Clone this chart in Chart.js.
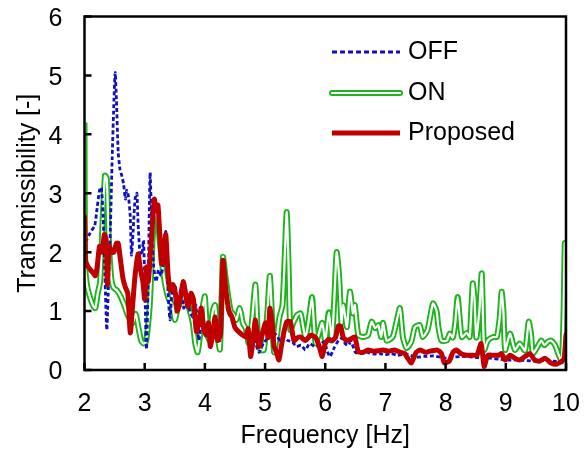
<!DOCTYPE html>
<html><head><meta charset="utf-8">
<script src="https://cdn.jsdelivr.net/npm/chart.js@4.4.0/dist/chart.umd.min.js"></script>
<style>html,body{margin:0;padding:0;background:#fff;}#wrap{width:587px;height:455px;}</style>
</head><body><div id="wrap"><canvas id="c" width="587" height="455"></canvas></div>
<script>
// ---- data ----
const xTicks = [2,3,4,5,6,7,8,9,10];
const yTicks = [0,1,2,3,4,5,6];
const xTitle = 'Frequency [Hz]';
const yTitle = 'Transmissibility [-]';
const seriesNames = ['OFF','ON','Proposed'];

const offFreq = [2.00,2.03,2.08,2.12,2.17,2.21,2.25,2.28,2.31,2.34,2.37,2.40,2.43,2.46,2.49,2.51,2.53,2.56,2.59,2.62,2.65,2.68,2.70,2.73,2.76,2.78,2.81,2.84,2.87,2.89,2.92,2.95,2.98,3.00,3.03,3.06,3.09,3.12,3.15,3.19,3.23,3.27,3.31,3.35,3.38,3.42,3.46,3.50,3.55,3.60,3.65,3.70,3.75,3.80,3.85,3.90,3.95,4.00,4.05,4.10,4.15,4.20,4.25,4.30,4.33,4.38,4.45,4.52,4.60,4.68,4.75,4.82,4.90,4.97,5.05,5.10,5.18,5.25,5.31,5.38,5.45,5.52,5.60,5.67,5.74,5.82,5.90,5.98,6.04,6.08,6.15,6.22,6.28,6.33,6.38,6.43,6.50,6.60,6.70,6.80,6.90,7.00,7.10,7.20,7.35,7.50,7.65,7.80,7.90,8.00,8.15,8.30,8.45,8.60,8.75,8.90,9.05,9.20,9.35,9.50,9.65,9.80,9.95,10.0];
const offVal  = [2.2,2.2,2.3,2.37,2.45,2.75,3.05,3.1,2.6,1.6,0.68,1.5,2.4,3.6,4.6,5.05,4.6,3.7,3.4,3.3,3.15,2.9,3.05,2.95,2.6,1.95,2.4,2.9,3.0,2.5,2.0,1.95,2.2,1.5,0.35,1.6,3.35,2.3,1.75,1.5,1.7,1.6,1.8,2.35,1.5,0.85,1.4,1.45,1.2,1.35,1.05,1.2,1.0,0.9,1.1,0.5,0.85,0.8,0.6,0.7,0.75,0.85,0.5,1.8,1.4,1.0,0.85,0.68,0.62,0.56,0.5,0.5,0.3,0.45,0.55,0.63,0.6,0.5,0.56,0.5,0.48,0.4,0.42,0.34,0.45,0.4,0.42,0.48,0.3,0.23,0.38,0.5,0.54,0.45,0.42,0.48,0.3,0.28,0.3,0.27,0.28,0.26,0.28,0.25,0.27,0.22,0.23,0.24,0.22,0.2,0.22,0.23,0.22,0.2,0.2,0.18,0.17,0.17,0.16,0.15,0.16,0.15,0.14,0.18];

const onFreq = [2.00,2.01,2.04,2.09,2.14,2.18,2.22,2.26,2.30,2.34,2.37,2.40,2.44,2.48,2.54,2.60,2.66,2.71,2.76,2.80,2.85,2.90,2.94,2.98,3.02,3.05,3.09,3.13,3.17,3.21,3.25,3.29,3.34,3.40,3.46,3.50,3.55,3.60,3.65,3.70,3.75,3.80,3.84,3.88,3.92,3.97,4.00,4.04,4.08,4.13,4.17,4.21,4.25,4.30,4.34,4.38,4.43,4.47,4.52,4.58,4.63,4.68,4.73,4.78,4.84,4.88,4.92,4.98,5.04,5.08,5.12,5.15,5.20,5.24,5.29,5.33,5.36,5.39,5.42,5.47,5.53,5.59,5.63,5.67,5.72,5.78,5.81,5.84,5.89,5.95,6.00,6.06,6.11,6.15,6.19,6.23,6.27,6.30,6.36,6.41,6.46,6.49,6.55,6.63,6.71,6.77,6.83,6.88,6.93,6.96,7.02,7.12,7.18,7.24,7.29,7.35,7.43,7.49,7.57,7.62,7.70,7.79,7.85,7.88,7.93,8.02,8.07,8.12,8.16,8.20,8.24,8.27,8.35,8.40,8.45,8.48,8.51,8.56,8.60,8.64,8.70,8.79,8.85,8.90,8.93,8.96,8.99,9.07,9.15,9.23,9.32,9.38,9.42,9.45,9.53,9.59,9.64,9.70,9.75,9.82,9.87,9.93,9.96,9.98,10.0];
const onVal  = [4.2,1.8,1.45,1.24,1.1,1.05,1.3,1.5,2.5,3.3,3.25,2.3,1.6,1.4,1.35,1.25,1.1,0.95,0.85,0.8,0.95,0.7,0.5,0.45,0.48,0.7,1.2,2.2,2.7,2.6,2.2,1.8,1.45,1.2,1.1,0.85,1.05,1.15,1.1,1.2,1.0,0.8,0.45,0.3,0.6,1.1,1.25,0.6,0.5,1.0,1.1,0.6,0.35,1.92,1.6,1.3,1.0,0.95,0.85,1.05,0.8,0.7,0.45,0.8,1.45,0.6,0.34,0.34,1.0,1.6,0.8,0.3,0.6,0.9,1.1,2.0,2.68,1.8,0.68,0.8,0.93,0.96,0.75,0.56,0.8,1.24,0.8,0.45,0.6,0.8,0.5,0.98,0.5,1.2,2.0,1.6,0.8,1.1,0.73,1.33,0.96,1.1,0.59,0.56,0.59,0.82,0.71,0.76,0.56,0.8,0.5,0.56,0.8,1.05,0.56,0.37,0.48,0.73,0.76,0.56,0.68,1.13,1.0,0.73,0.5,0.5,0.62,0.55,0.8,1.24,0.8,0.56,0.63,0.56,1.47,1.2,0.55,1.0,1.64,0.34,0.5,0.56,0.56,0.9,1.33,1.0,0.34,0.62,0.34,0.45,0.33,0.82,0.6,0.28,0.4,0.5,0.42,0.48,0.5,0.42,0.28,0.15,1.0,2.15,2.0];

const propFreq = [2.00,2.02,2.06,2.10,2.14,2.18,2.21,2.25,2.29,2.33,2.36,2.38,2.41,2.45,2.49,2.53,2.56,2.60,2.64,2.68,2.72,2.76,2.80,2.84,2.89,2.93,2.97,3.00,3.03,3.06,3.09,3.13,3.16,3.19,3.22,3.25,3.28,3.31,3.35,3.39,3.43,3.47,3.51,3.54,3.59,3.64,3.68,3.72,3.77,3.81,3.86,3.90,3.94,3.98,4.02,4.06,4.09,4.13,4.17,4.21,4.26,4.30,4.35,4.40,4.45,4.50,4.55,4.62,4.68,4.72,4.76,4.80,4.84,4.90,4.95,5.01,5.05,5.08,5.12,5.15,5.19,5.23,5.27,5.31,5.36,5.42,5.48,5.54,5.59,5.67,5.76,5.84,5.90,5.95,6.00,6.06,6.11,6.17,6.22,6.26,6.30,6.36,6.41,6.49,6.55,6.63,6.71,6.80,6.90,6.96,7.05,7.15,7.25,7.32,7.37,7.43,7.51,7.58,7.66,7.74,7.80,7.86,7.93,7.98,8.06,8.12,8.18,8.25,8.35,8.45,8.52,8.59,8.64,8.70,8.80,8.88,8.93,8.99,9.07,9.15,9.23,9.32,9.40,9.48,9.56,9.65,9.75,9.85,9.93,9.97,10.0];
const propVal  = [2.6,1.85,1.75,1.7,1.65,1.6,1.75,2.1,2.0,2.3,2.2,1.45,2.1,2.0,2.0,2.15,2.15,1.85,1.55,1.4,1.3,0.63,1.1,1.6,1.97,1.7,1.5,1.2,1.75,1.5,1.9,2.5,2.9,2.7,2.8,2.3,1.8,1.9,2.3,1.6,1.35,1.45,1.3,1.0,1.2,1.5,1.3,1.07,1.3,1.2,0.65,0.8,1.05,0.7,0.6,0.8,0.4,0.6,0.9,0.5,0.6,1.86,1.35,1.0,0.9,0.72,0.66,0.6,0.56,0.7,0.23,0.5,0.85,0.4,0.6,0.8,0.55,1.05,0.75,0.4,0.3,0.17,0.4,0.63,0.82,0.82,0.5,0.55,0.56,0.5,0.59,0.55,0.4,0.23,0.45,0.52,0.5,0.55,0.75,0.73,0.55,0.5,0.52,0.56,0.31,0.3,0.34,0.32,0.33,0.34,0.32,0.34,0.3,0.28,0.2,0.12,0.3,0.34,0.3,0.32,0.33,0.34,0.28,0.12,0.15,0.3,0.34,0.28,0.25,0.25,0.25,0.45,0.06,0.25,0.25,0.25,0.28,0.17,0.25,0.2,0.17,0.23,0.28,0.17,0.15,0.2,0.12,0.1,0.15,0.2,0.6];

// ---- styling ----
const FONT = "'Liberation Sans', Arial, sans-serif";
const BLUE = '#1010bc', GREEN = '#1db41d', RED = '#c00000';
const pts = (f, v) => f.map((x, i) => ({x: x, y: v[i]}));

const frame = {
  id: 'frame',
  afterDraw(chart) {
    const {ctx, chartArea: a, scales: {x, y}} = chart;
    ctx.save();
    ctx.strokeStyle = '#000';
    ctx.lineWidth = 2.5;
    ctx.strokeRect(a.left, a.top, a.right - a.left, a.bottom - a.top);
    ctx.beginPath();
    xTicks.forEach(v => { const px = x.getPixelForValue(v); ctx.moveTo(px, a.bottom); ctx.lineTo(px, a.bottom - 7); });
    yTicks.forEach(v => { const py = y.getPixelForValue(v); ctx.moveTo(a.left, py); ctx.lineTo(a.left + 7, py); });
    ctx.stroke();
    // legend
    function ln(x0, x1, yy) { ctx.beginPath(); ctx.moveTo(x0, yy); ctx.lineTo(x1, yy); ctx.stroke(); }
    const rows = [
      {name: seriesNames[0], yy: 52, draw: (x0, x1, yy) => { ctx.setLineDash([5,3]); ctx.strokeStyle = BLUE; ctx.lineWidth = 2.8; ln(x0,x1,yy); ctx.setLineDash([]); }},
      {name: seriesNames[1], yy: 93, draw: (x0, x1, yy) => { ctx.lineCap='round'; ctx.strokeStyle = GREEN; ctx.lineWidth = 6; ln(x0,x1,yy); ctx.strokeStyle = '#fff'; ctx.lineWidth = 2.2; ln(x0,x1,yy); ctx.lineCap='butt'; }},
      {name: seriesNames[2], yy: 133, draw: (x0, x1, yy) => { ctx.strokeStyle = RED; ctx.lineWidth = 5; ln(x0,x1,yy); }}
    ];
    rows.forEach(r => {
      r.draw(332, 400, r.yy);
      ctx.fillStyle = '#000';
      ctx.font = '25px ' + FONT;
      ctx.textBaseline = 'middle';
      ctx.textAlign = 'left';
      ctx.fillText(r.name, 408, r.yy);
    });
    ctx.restore();
  }
};

const common = {pointRadius: 0, fill: false, tension: 0.2, borderJoinStyle: 'round'};
const noPad = s => { s.paddingTop = 0; s.paddingBottom = 0; s.paddingLeft = 0; s.paddingRight = 0; };

new Chart(document.getElementById('c'), {
  type: 'line',
  data: {
    datasets: [
      Object.assign({label: seriesNames[2], data: pts(propFreq, propVal), borderColor: RED, borderWidth: 5, order: 0, borderCapStyle: 'round'}, common),
      Object.assign({label: seriesNames[0], data: pts(offFreq, offVal), borderColor: BLUE, borderWidth: 2.8, borderDash: [4,2.5], order: 1}, common),
      Object.assign({label: seriesNames[1] + ' inner', data: pts(onFreq, onVal), borderColor: '#ffffff', borderWidth: 2.2, order: 2}, common),
      Object.assign({label: seriesNames[1], data: pts(onFreq, onVal), borderColor: GREEN, borderWidth: 6, order: 3}, common)
    ]
  },
  options: {
    responsive: false,
    animation: false,
    layout: {padding: {left: 0, right: 21, top: 16.5, bottom: 0}},
    plugins: {legend: {display: false}, tooltip: {enabled: false}},
    scales: {
      x: {
        type: 'linear', min: 2, max: 10,
        afterBuildTicks: s => { s.ticks = xTicks.map(v => ({value: v})); },
        afterFit: s => { s.height = 85; noPad(s); },
        grid: {display: false, drawTicks: false},
        border: {display: false},
        ticks: {color: '#000', font: {family: FONT, size: 25}, padding: 19, maxRotation: 0, autoSkip: false},
        title: {display: true, text: xTitle, color: '#000', font: {family: FONT, size: 25}, padding: {top: 0, bottom: 4}}
      },
      y: {
        type: 'linear', min: 0, max: 6,
        afterBuildTicks: s => { s.ticks = yTicks.map(v => ({value: v})); },
        afterFit: s => { s.width = 84.5; noPad(s); },
        grid: {display: false, drawTicks: false},
        border: {display: false},
        ticks: {color: '#000', font: {family: FONT, size: 25}, padding: 22, labelOffset: 2.5, autoSkip: false},
        title: {display: true, text: yTitle, color: '#000', font: {family: FONT, size: 25}, padding: {top: 13, bottom: 0}}
      }
    }
  },
  plugins: [frame]
});
</script></body></html>
